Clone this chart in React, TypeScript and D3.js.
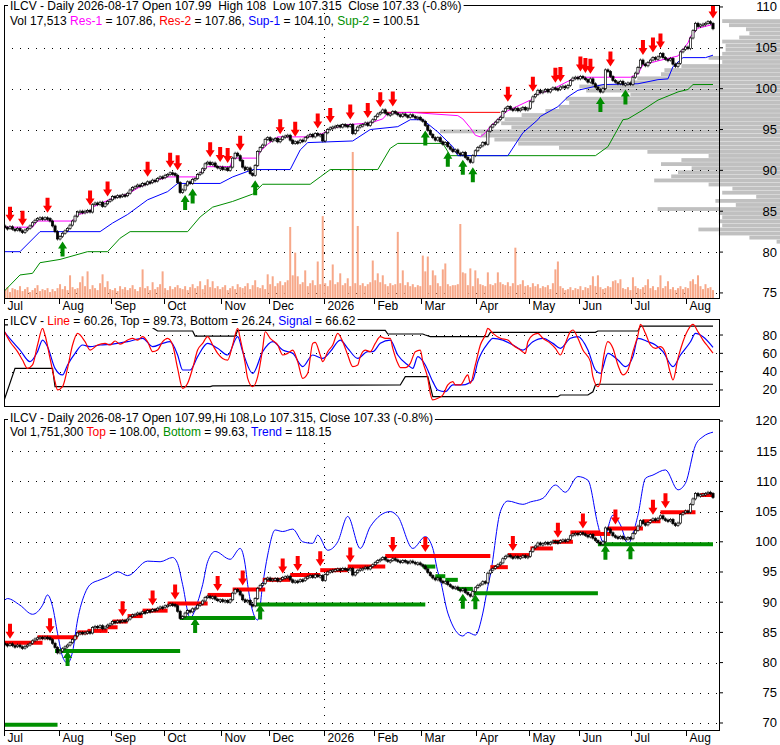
import React from 'react';
import * as d3 from 'd3';

// ---- calendar -------------------------------------------------------------
const holidays = ['2025-07-04', '2025-09-01', '2025-11-27', '2025-12-25', '2026-01-01', '2026-01-19',
  '2026-02-16', '2026-04-03', '2026-05-25', '2026-06-19', '2026-07-03'];
const fmtDay = d3.utcFormat('%Y-%m-%d');
const days = d3.utcDay
  .range(new Date(Date.UTC(2025, 5, 30)), new Date(Date.UTC(2026, 7, 18)))
  .filter(d => d.getUTCDay() % 6 !== 0 && !holidays.includes(fmtDay(d)));

// ---- price data ----------------------------------------------------------
const firstOpen = 83.4;
const closes = [
  83.2, 83.0, 82.9, 83.1, 82.8, 82.7, 82.9, 82.6, 82.4, 82.7,
  82.9, 83.2, 83.6, 83.9, 84.1, 84.2, 84.0, 84.2, 84.1, 83.8,
  83.2, 82.5, 81.6, 81.9, 82.3, 82.6, 82.9, 83.3, 83.8, 84.4,
  84.9, 85.0, 84.8, 85.0, 85.1, 84.9, 85.8, 86.0, 85.8, 86.1,
  85.6, 85.9, 86.2, 86.4, 86.8, 86.7, 86.9, 86.8, 87.0, 86.9,
  87.2, 87.6, 87.9, 88.0, 88.2, 88.1, 88.4, 88.3, 88.6, 88.5,
  88.8, 88.7, 89.0, 89.2, 89.1, 89.4, 89.5, 89.7, 89.6, 89.4,
  88.5, 87.3, 87.6, 88.2, 88.6, 88.4, 88.9, 89.0, 89.5, 89.7,
  90.2, 90.8, 91.0, 90.7, 90.9, 90.5, 90.3, 90.4, 90.1, 90.3,
  90.0, 90.4, 91.5, 92.1, 91.8, 91.2, 90.4, 90.1, 90.3, 89.6,
  89.4, 90.6, 92.3, 92.8, 93.1, 93.8, 94.0, 93.6, 93.8, 93.9,
  93.5, 93.8, 94.1, 94.2, 94.3, 93.7, 93.3, 93.5, 93.4, 93.7,
  93.6, 94.0, 94.2, 94.4, 94.1, 94.5, 94.3, 94.4, 93.6, 94.6,
  95.0, 95.2, 95.3, 95.4, 95.5, 95.3, 95.6, 95.5, 95.4, 95.6,
  94.5, 94.9, 95.3, 95.5, 95.6, 95.8, 95.5, 95.9, 96.2, 96.6,
  96.9, 97.1, 97.4, 97.0, 96.8, 96.9, 97.2, 97.0, 96.8, 96.6,
  96.9, 96.7, 96.5, 96.8, 96.6, 96.4, 96.5, 96.2, 96.0, 95.5,
  94.9, 94.4, 94.0, 93.7, 94.0, 93.5, 93.2, 93.4, 92.9, 92.6,
  92.3, 92.5, 92.1, 91.9, 92.2, 91.6, 91.3, 91.0, 91.8, 92.4,
  92.8, 93.0, 93.4, 93.2, 94.8, 95.3, 95.6, 95.9, 96.2, 96.5,
  97.2, 97.6, 97.8, 97.5, 97.4, 97.6, 97.3, 97.5, 97.7, 97.4,
  97.6, 98.4, 99.0, 99.3, 99.8, 99.5, 99.7, 99.9, 99.6, 99.9,
  100.1, 100.0, 99.9, 100.2, 100.3, 100.1, 100.4, 101.0, 101.3, 101.4,
  101.2, 101.5, 101.3, 101.1, 100.8, 101.2, 100.6, 100.2, 99.9, 99.6,
  100.0, 102.3, 102.1, 101.5, 101.0, 100.8, 100.6, 100.9, 100.5, 100.6,
  100.7, 100.5, 101.4, 101.9, 102.6, 103.5, 103.0, 102.8, 103.2, 103.5,
  103.8, 103.6, 103.9, 104.3, 103.8, 103.6, 103.5, 103.7, 103.0, 102.7,
  103.1, 104.5, 104.8, 105.1, 104.9, 106.2, 107.1, 108.0, 107.6, 107.8,
  107.9, 108.0, 108.2, 107.99, 107.33,
];

// daily volume, tens of thousands of shares
const volume = [
  4, 8, 11, 6, 10, 9, 8, 12, 7, 9, 11, 6, 8, 10, 13, 7, 9, 8, 10, 6, 9, 7,
  10, 14, 9, 12, 8, 23, 11, 9, 10, 16, 22, 12, 27, 9, 13, 10, 8, 15, 24, 11, 17, 9,
  8, 10, 7, 12, 9, 11, 8, 10, 13, 9, 7, 11, 29, 10, 12, 8, 16, 9, 11, 14, 27,
  10, 8, 12, 9, 11, 13, 10, 9, 12, 8, 11, 14, 10, 12, 17, 9, 13, 19, 11, 17, 10, 12,
  9, 11, 13, 8, 10, 12, 9, 14, 11, 10, 12, 15, 9, 13, 18, 11, 10, 13, 9, 24,
  14, 22, 12, 15, 17, 13, 16, 18, 72, 23, 46, 22, 14, 16, 28, 12, 15, 18, 13, 37, 14,
  83, 15, 12, 18, 34, 14, 16, 25, 13, 15, 20, 12, 148, 15, 73, 13, 15, 12, 14, 16, 38, 18, 25, 16, 23, 14, 12,
  15, 13, 14, 67, 15, 28, 13, 16, 12, 14, 11, 13, 12,
  43, 27, 42, 13, 28, 23, 15, 12, 29, 35, 14, 12, 13, 13, 14, 75, 26, 25, 13, 30, 12, 28, 20, 14, 13, 12, 26, 14, 13, 15, 26, 16,
  14, 13, 16, 12, 15, 51, 13, 14, 18, 12, 13, 11, 15, 12, 14, 10, 12, 11, 13, 9, 15, 29, 37, 12, 10, 8, 9, 11, 8, 10, 9, 12, 8, 11, 10,
  13, 22, 12, 23, 11, 9, 10, 12, 11, 17, 18, 15, 19, 10, 9, 11, 8, 21, 12, 10, 9, 11, 13, 19, 10, 12, 8, 11, 23, 10,
  12, 17, 9, 11, 8, 10, 12, 9, 11, 10, 17, 19, 14, 23, 12, 9, 14, 10, 11, 8,
];

// support / resistance lines, [day, price]
const res1: [number, number][] = [[0, 83.05], [12, 83.05], [14, 83.8], [28, 83.8], [30, 84.55], [35, 85.0], [36, 85.5],
  [44, 86.6], [50, 87.1], [55, 88.0], [60, 88.6], [66, 89.2], [78, 89.2], [79, 89.7], [82, 90.45], [91, 90.45],
  [92, 91.5], [102, 91.5], [103, 92.3], [106, 93.2], [110, 94.1], [122, 94.1], [128, 94.5], [131, 95.1], [138, 95.6],
  [147, 95.8], [152, 96.3], [154, 97.0], [163, 97.1], [182, 96.7], [184, 96.3], [187, 95.2], [189, 94.3], [191, 94.1],
  [193, 94.6], [195, 95.4], [198, 96.2], [199, 96.6], [202, 97.3], [211, 98.6], [214, 99.4], [219, 99.8], [226, 100.9],
  [230, 101.4], [251, 101.4], [254, 101.8], [256, 102.9], [262, 103.4], [270, 104.0], [274, 105.6], [275, 106.4],
  [278, 107.4], [284, 107.86]];
const res2: [number, number][] = [[153, 97.1], [199, 97.1]];
const sup1: [number, number][] = [[0, 80.05], [7, 80.05], [15, 82.5], [39, 82.5], [44, 83.55], [50, 84.6], [58, 86.4],
  [66, 87.4], [70, 88.4], [87, 88.4], [92, 89.2], [100, 90.1], [115, 90.1], [119, 92.5], [122, 93.4], [140, 93.6],
  [147, 95.0], [158, 95.35], [163, 96.2], [168, 96.2], [174, 94.7], [180, 92.9], [182, 91.8], [202, 91.8], [208, 94.6],
  [214, 96.2], [215, 96.6], [222, 97.8], [226, 99.0], [230, 99.8], [240, 100.5], [254, 100.6], [262, 101.1],
  [266, 101.2], [268, 102.7], [272, 103.8], [281, 103.8], [284, 104.1]];
const sup2: [number, number][] = [[0, 75.0], [7, 77.2], [12, 77.4], [15, 78.7], [23, 79.1], [34, 80.05], [42, 80.05],
  [47, 81.7], [51, 82.5], [74, 82.5], [79, 84.3], [84, 85.5], [92, 86.2], [100, 87.1], [104, 88.3], [123, 88.3],
  [127, 89.2], [131, 90.1], [150, 90.1], [155, 92.7], [158, 93.3], [176, 93.3], [179, 91.8], [237, 91.8], [242, 92.9],
  [248, 96.2], [250, 96.3], [256, 97.4], [262, 98.6], [270, 99.6], [274, 99.9], [276, 100.5], [284, 100.51]];

const sellTop = [3, 8, 18, 35, 42, 58, 67, 70, 83, 87, 90, 95, 111, 117, 126, 131, 139, 146, 151, 156, 202, 212,
  221, 223, 231, 233, 235, 243, 256, 260, 263, 284];
const buyTop = [24, 73, 76, 101, 169, 178, 184, 188, 239, 249];

// volume at price (right-hand profile)
const profilePrice = [81.25, 81.75, 82.25, 82.75, 83.25, 83.75, 84.25, 84.75, 85.25, 85.75, 86.25, 86.75, 87.25,
  87.75, 88.25, 88.75, 89.25, 89.75, 90.25, 90.75, 91.25, 91.75, 92.25, 92.75, 93.25, 93.75, 94.25, 94.75, 95.25,
  95.75, 96.25, 96.75, 97.25, 97.75, 98.25, 98.75, 99.25, 99.75, 100.25, 100.75, 101.25, 101.75, 102.25, 102.75,
  103.25, 103.75, 104.25, 104.75, 105.25, 105.75, 106.25, 106.75, 107.25, 107.75, 108.25];
const profileVolume = [1, 9, 18, 24, 17, 18, 17, 18, 36, 13, 19, 7, 17, 14, 21, 37, 32, 30, 26, 35, 29, 21, 39, 65,
  77, 84, 88, 100, 79, 82, 81, 76, 69, 65, 62, 63, 44, 57, 59, 44, 42, 35, 34, 29, 17, 21, 17, 16, 16, 17, 12, 9, 10,
  15, 17];

// ---- oscillator panel --------------------------------------------------
const oscLine: [number, number][] = [[0, 88], [3, 72.7], [6, 61.8], [8, 52.7], [10, 43.6], [12, 47.3], [14, 69.1],
  [16, 87.3], [17, 80], [19, 54.5], [21, 29.1], [22, 20], [24, 23.6], [26, 43.6], [28, 69.1], [30, 81.8], [33, 72.7],
  [35, 63.6], [38, 69.1], [41, 70.9], [43, 69.1], [45, 73.5], [47, 70], [50, 74.5], [52, 76.4], [54, 74.5],
  [56, 78.2], [58, 72.7], [60, 61.8], [62, 63.6], [64, 72.7], [66, 76.4], [68, 69.1], [70, 43.6], [72, 21.8],
  [74, 27.3], [76, 43.6], [78, 63.6], [80, 70.9], [82, 78.2], [84, 69.1], [86, 60], [88, 54.5], [90, 52.7],
  [92, 69.1], [94, 87.3], [95, 76.4], [97, 49.1], [98, 32.7], [100, 23.6], [102, 34.5], [104, 65.5], [105, 83.6],
  [107, 76.4], [110, 69.1], [112, 58.2], [114, 60], [116, 63.6], [118, 50.9], [120, 32.7], [122, 38.2], [124, 70.9],
  [125, 72], [127, 58.2], [128, 50.9], [130, 61.8], [132, 69.1], [134, 81.8], [136, 72.7], [138, 58.2], [140, 45.5],
  [142, 47.3], [143, 56.4], [145, 63.6], [147, 61.8], [149, 70.9], [151, 78.2], [153, 76.4], [155, 76.4],
  [156, 65.5], [158, 49.1], [159, 44.4], [161, 44.4], [163, 49.1], [165, 61.8], [167, 63.6], [168, 50.9],
  [170, 32.7], [171, 16.4], [172, 9.1], [174, 10.9], [176, 14.5], [178, 25.5], [180, 29.1], [181, 25.5],
  [183, 25.5], [186, 36.4], [187, 27.3], [189, 47.3], [191, 69.1], [193, 80], [194, 87.3], [196, 81.8], [199, 76.4],
  [202, 74.5], [204, 69.1], [207, 63.6], [209, 60], [210, 72.7], [212, 80], [214, 81.8], [216, 76.4], [219, 70.9],
  [221, 65.5], [223, 58.2], [225, 70.9], [227, 83.6], [228, 85.5], [230, 76.4], [232, 63.6], [235, 50.9],
  [236, 34.5], [238, 23.6], [239, 29.1], [240, 50.9], [242, 72.7], [244, 65.5], [246, 47.3], [248, 36.4],
  [250, 41.8], [252, 61.8], [254, 80], [255, 91.6], [257, 81.8], [259, 69.1], [261, 65.5], [263, 67.3], [265, 60],
  [267, 38.2], [268, 30.9], [270, 54.5], [272, 72.7], [274, 85.5], [276, 91.6], [278, 83.6], [280, 74.5],
  [282, 67.3], [284, 60.26]];
const oscSignal: [number, number][] = [[0, 86], [4, 72.7], [7, 63.6], [11, 50.9], [14, 61.8], [16, 74.5], [18, 67.3],
  [21, 43.6], [24, 36.4], [26, 47.3], [29, 60], [32, 69.1], [35, 67.3], [39, 69.1], [44, 70], [50, 72.7], [56, 76.4],
  [60, 67.3], [64, 70.9], [67, 72.7], [70, 58.2], [72, 41.8], [75, 41.8], [78, 56.4], [82, 70.9], [86, 65.5],
  [90, 58.2], [94, 78.2], [96, 61.8], [100, 38.2], [104, 61.8], [108, 72.7], [112, 63.6], [116, 60], [120, 45.5],
  [124, 58.2], [128, 54.5], [131, 61.8], [135, 74.5], [138, 65.5], [142, 54.5], [146, 61.8], [148, 61.8],
  [151, 70.9], [155, 74.5], [158, 58.2], [162, 47.3], [164, 43.6], [166, 56.4], [169, 47.3], [172, 29.1], [174, 20],
  [177, 18.2], [180, 25.5], [184, 25.5], [188, 30.9], [190, 50.9], [194, 70.9], [196, 76.4], [200, 74.5],
  [204, 69.1], [208, 63.6], [212, 72.7], [216, 76.4], [220, 70.9], [223, 65.5], [227, 76.4], [230, 78.2],
  [234, 63.6], [237, 41.8], [239, 38.2], [242, 60], [246, 52.7], [249, 45.5], [252, 56.4], [254, 76.4], [258, 72.7],
  [261, 69.1], [264, 61.8], [268, 45.5], [271, 58.2], [275, 72.7], [277, 81.8], [280, 78.2], [284, 66.62]];
const oscTop: [number, number][] = [[0, 91], [59, 91], [60, 88], [62, 84.4], [76, 84.4], [77, 78.9], [93, 78.9],
  [94, 85.2], [153, 85.0], [154, 81.1], [168, 81.1], [169, 80], [171, 78.2], [194, 78.2], [195, 82.9], [237, 82.9],
  [238, 84.4], [254, 84.4], [255, 89.73], [284, 89.73]];
const oscBottom: [number, number][] = [[0, 3.6], [5, 43.6], [20, 43.6], [21, 23.6], [83, 23.6], [84, 24.5],
  [159, 25.5], [161, 34.5], [170, 34.5], [172, 12.7], [222, 12.7], [223, 14.5], [234, 14.5], [236, 18], [237, 25.5],
  [238, 26.24], [284, 26.24]];

// ---- lower price panel --------------------------------------------------
const trend: [number, number][] = [[0, 89.9], [2, 90.6], [7, 89.5], [12, 88.0], [16, 89.5], [18, 91.2], [20, 89.3],
  [22, 84.85], [24, 81.0], [26, 79.9], [28, 81.8], [30, 87.05], [33, 91.5], [35, 92.9], [39, 93.7], [42, 94.2],
  [46, 95.05], [50, 94.4], [58, 96.8], [63, 96.7], [68, 97.4], [70, 96.4], [72, 92.9], [75, 87.4], [78, 90],
  [80, 92.9], [82, 96.7], [85, 98.4], [91, 97.1], [95, 98.9], [97, 96.2], [98, 92.9], [102, 87.05], [104, 92.9],
  [106, 97.8], [109, 101.95], [112, 101.7], [116, 102.1], [120, 100.0], [124, 99.75], [126, 101.1], [130, 98.6],
  [134, 100.0], [138, 104.2], [143, 98.9], [147, 102.5], [155, 105.0], [158, 104.2], [164, 98.9], [169, 100.85],
  [172, 98.9], [174, 95.05], [175, 93.7], [178, 88.2], [184, 84.4], [186, 85.0], [189, 84.55], [192, 88.2],
  [194, 92.6], [195, 94.5], [199, 105.0], [202, 106.75], [208, 106.2], [211, 106.6], [216, 107.2], [221, 109.4],
  [225, 108.2], [230, 110.8], [234, 110.2], [238, 102.8], [240, 100.0], [244, 104.4], [247, 102.8], [250, 99.75],
  [254, 104.4], [257, 110.5], [260, 111.05], [265, 111.9], [270, 108.6], [273, 109.7], [277, 116.0], [280, 117.4],
  [284, 118.15]];
// [first day, last day, price]
const topSteps: [number, number, number][] = [[0, 1, 80.9], [1, 16, 83.3], [14, 30, 84.2], [30, 34, 85.0],
  [34, 42, 85.25], [42, 46, 85.85], [44, 50, 86.8], [50, 56, 87.7], [56, 66, 88.6], [66, 82, 89.8], [82, 92, 91.2],
  [92, 105, 92.1], [104, 115, 93.7], [115, 127, 94.5], [127, 138, 95.3], [138, 153, 95.9], [153, 195, 97.65],
  [195, 202, 95.8], [202, 211, 97.8], [211, 220, 98.9], [220, 228, 100.0], [227, 239, 101.55], [235, 243, 101.3],
  [242, 256, 102.2], [256, 263, 103.4], [263, 277, 104.9], [279, 284, 107.75]];
const bottomSteps: [number, number, number][] = [[0, 22, 69.7], [21, 71, 81.9], [71, 101, 87.4], [101, 169, 89.6],
  [168, 173, 95.9], [173, 177, 94.3], [177, 182, 93.7], [182, 188, 92.2], [188, 238, 91.5], [238, 284, 99.6]];
const sellBottom = [3, 19, 48, 60, 69, 86, 96, 112, 118, 127, 139, 156, 169, 204, 222, 232, 245, 260, 265];
const buyBottom = [26, 77, 103, 184, 189, 241, 251];

const topTicks = [75, 80, 85, 90, 95, 100, 105, 110];
const oscTicks = [20, 40, 60, 80];
const botTicks = [70, 75, 80, 85, 90, 95, 100, 105, 110, 115, 120];

// ---- layout --------------------------------------------------------------
const W = 780;
const H = 745;
const L = 4;
const R = 719;
const P1 = { top: 5, bottom: 298 };
const P2 = { top: 319, bottom: 406 };
const P3 = { top: 419, bottom: 730 };
const FONT = 'Arial, "Liberation Sans", sans-serif';

const x = d3.scaleLinear().domain([0, closes.length - 1]).range([2.5, 713]);
const yTop = d3.scaleLinear().domain([74.38, 110.24]).range([P1.bottom, P1.top]);
const yOsc = d3.scaleLinear().domain([2.5, 97.5]).range([P2.bottom, P2.top]);
const yBot = d3.scaleLinear().domain([68.84, 120.33]).range([P3.bottom, P3.top]);
const yVol = d3.scaleLinear().domain([0, 150]).range([P1.bottom, P1.bottom - 148]);
const wProfile = d3.scaleLinear().domain([0, 100]).range([0, 340]);

const candles = closes.map((c, i) => {
  const o = i === 0 ? firstOpen : closes[i - 1];
  return { i, o, c, hi: Math.max(o, c), lo: Math.min(o, c) };
});

const monthTicks = days
  .map((d, i) => ({ d, i }))
  .filter(({ d, i }) => i > 0 && i < closes.length && d.getUTCMonth() !== days[i - 1].getUTCMonth())
  .map(({ d, i }) => ({
    i,
    label: d.getUTCMonth() === 0 ? String(d.getUTCFullYear()) : d3.utcFormat('%b')(d),
  }));
const yearTick = monthTicks.find(t => /^\d+$/.test(t.label));

let measureCtx: CanvasRenderingContext2D | null = null;
function textWidth(s: string, size: number) {
  if (!measureCtx) measureCtx = document.createElement('canvas').getContext('2d');
  if (!measureCtx) return s.length * size * 0.55;
  measureCtx.font = `${size}px Arial, "Liberation Sans", sans-serif`;
  return measureCtx.measureText(s).width;
}

type Part = { t: string; c?: string };
const Header: React.FC<{ parts: Part[]; x0: number; base: number }> = ({ parts, x0, base }) => {
  const w = textWidth(parts.map(p => p.t).join(''), 12);
  return (
    <g>
      <rect x={x0 - 2} y={base - 11} width={w + 4} height={14} fill="#fff" />
      <text x={x0} y={base} fontFamily={FONT} fontSize={12} style={{ whiteSpace: 'pre' }}>
        {parts.map((p, k) => (
          <tspan key={k} fill={p.c || '#000'}>{p.t}</tspan>
        ))}
      </text>
    </g>
  );
};

const downArrow = (ax: number, tip: number) =>
  `M${ax},${tip} l-4.5,-7 l2.5,0 l0,-8 l4,0 l0,8 l2.5,0 Z`;
const upArrow = (ax: number, tip: number) =>
  `M${ax},${tip} l-4.5,7 l2.5,0 l0,8 l4,0 l0,-8 l2.5,0 Z`;

const Grid: React.FC<{ ticks: number[]; y: d3.ScaleLinear<number, number> }> = ({ ticks, y }) => (
  <g>
    {ticks.map(t => (
      <line key={t} x1={L} x2={R} y1={Math.round(y(t)) + 0.5} y2={Math.round(y(t)) + 0.5}
        stroke="#000" strokeDasharray="1,7" />
    ))}
  </g>
);

const RightAxis: React.FC<{ ticks: number[]; y: d3.ScaleLinear<number, number> }> = ({ ticks, y }) => (
  <g fontFamily={FONT} fontSize={13}>
    {ticks.map(t => (
      <g key={t}>
        <line x1={R} x2={R + 4} y1={y(t)} y2={y(t)} stroke="#000" />
        <text x={777} y={y(t) + 4.5} textAnchor="end">{t}</text>
      </g>
    ))}
  </g>
);

const MonthAxis: React.FC<{ y0: number }> = ({ y0 }) => (
  <g fontFamily={FONT} fontSize={12}>
    {monthTicks.map(t => {
      const tx = Math.round(x(t.i) - 1.5) + 0.5;
      return (
        <g key={t.i}>
          <line x1={tx} x2={tx} y1={y0} y2={y0 + 6} stroke="#000" />
          <text x={tx + 3} y={y0 + 12}>{t.label}</text>
        </g>
      );
    })}
  </g>
);

const Candles: React.FC<{ y: d3.ScaleLinear<number, number> }> = ({ y }) => (
  <g>
    {candles.map(d => {
      const cx = x(d.i);
      const yt = y(d.hi);
      const yb = Math.max(y(d.lo), yt + 1.5);
      return (
        <g key={d.i}>
          <line x1={cx} x2={cx} y1={yt - 1.5} y2={yb + 1.5} stroke="#000" strokeWidth={0.7} />
          <rect x={cx - 1.1} y={yt} width={2.2} height={yb - yt}
            fill={d.c >= d.o ? '#fff' : '#000'} stroke="#000" strokeWidth={0.7} />
        </g>
      );
    })}
  </g>
);

const lineGen = (y: d3.ScaleLinear<number, number>, curve: d3.CurveFactory = d3.curveLinear) =>
  d3.line<[number, number]>().x(d => x(d[0])).y(d => y(d[1])).curve(curve);

const RED = '#ff0000';
const GREEN = '#008c00';
const BLUE = '#0000ff';
const MAGENTA = '#ff00ff';

export default function App() {
  const topLine = lineGen(yTop);
  const botTrend = lineGen(yBot, d3.curveMonotoneX);
  const oscSmooth = lineGen(yOsc, d3.curveMonotoneX);
  const oscStep = lineGen(yOsc);

  const binH = yTop(0) - yTop(0.5);

  const segAt = (segs: [number, number, number][], i: number) =>
    segs.filter(s => s[0] <= i && i <= s[1]);

  return (
    <div style={{ position: 'absolute', left: 0, top: 0 }}>
      <svg width={W} height={H} style={{ display: 'block', background: '#fff' }}>
        <defs>
          <clipPath id="c1"><rect x={L} y={P1.top} width={R - L} height={P1.bottom - P1.top} /></clipPath>
          <clipPath id="c2"><rect x={L} y={P2.top} width={R - L} height={P2.bottom - P2.top} /></clipPath>
          <clipPath id="c3"><rect x={L} y={P3.top} width={R - L} height={P3.bottom - P3.top} /></clipPath>
        </defs>

        {/* ---------- top panel ---------- */}
        <g>
          {profilePrice.map((p, k) => {
            const w = wProfile(profileVolume[k]);
            return (
              <rect key={p} x={W - w} y={yTop(p + 0.25)} width={w} height={binH - 0.3} fill="#c0c0c0" />
            );
          })}
        </g>
        <Grid ticks={topTicks.slice(0, -1)} y={yTop} />
        {yearTick && (
          <line x1={Math.round(x(yearTick.i) - 1.5) + 0.5} x2={Math.round(x(yearTick.i) - 1.5) + 0.5}
            y1={P1.top} y2={P1.bottom} stroke="#000" strokeDasharray="1,7" />
        )}
        <g clipPath="url(#c1)">
          {volume.map((v, i) => (
            <rect key={i} x={x(i) - 1} y={yVol(v)} width={2} height={P1.bottom - yVol(v)} fill="#f7a889" />
          ))}
          <path d={topLine(res2) || ''} fill="none" stroke={RED} />
          <path d={topLine(sup2) || ''} fill="none" stroke={GREEN} />
          <path d={topLine(sup1) || ''} fill="none" stroke={BLUE} />
          <path d={topLine(res1) || ''} fill="none" stroke={MAGENTA} />
          <Candles y={yTop} />
          {sellTop.map(i => (
            <path key={'s' + i} d={downArrow(x(i), yTop(candles[i].hi) - 5)} fill={RED} />
          ))}
          {buyTop.map(i => (
            <path key={'b' + i} d={upArrow(x(i), yTop(candles[i].lo) + 5)} fill={GREEN} />
          ))}
        </g>
        <rect x={L + 0.5} y={P1.top + 0.5} width={R - L} height={P1.bottom - P1.top} fill="none" stroke="#000" />
        <RightAxis ticks={topTicks} y={yTop} />
        <MonthAxis y0={P1.bottom} />
        <Header x0={10} base={10} parts={[
          { t: 'ILCV - Daily 2026-08-17 Open 107.99  High 108  Low 107.315  Close 107.33 (-0.8%)' },
        ]} />
        <Header x0={10} base={25} parts={[
          { t: 'Vol 17,513 ' }, { t: 'Res-1', c: MAGENTA }, { t: ' = 107.86, ' }, { t: 'Res-2', c: RED },
          { t: ' = 107.86, ' }, { t: 'Sup-1', c: BLUE }, { t: ' = 104.10, ' }, { t: 'Sup-2', c: '#009000' },
          { t: ' = 100.51' },
        ]} />

        {/* ---------- oscillator panel ---------- */}
        <Grid ticks={oscTicks} y={yOsc} />
        <g clipPath="url(#c2)">
          <path d={oscStep(oscTop) || ''} fill="none" stroke="#000" strokeWidth={1.2} />
          <path d={oscStep(oscBottom) || ''} fill="none" stroke="#000" strokeWidth={1.2} />
          <path d={oscSmooth(oscSignal) || ''} fill="none" stroke={BLUE} strokeWidth={1.2} />
          <path d={oscSmooth(oscLine) || ''} fill="none" stroke={RED} strokeWidth={1.2} />
        </g>
        <rect x={L + 0.5} y={P2.top + 0.5} width={R - L} height={P2.bottom - P2.top} fill="none" stroke="#000" />
        <RightAxis ticks={oscTicks} y={yOsc} />
        <Header x0={10} base={325} parts={[
          { t: 'ILCV - ' }, { t: 'Line', c: RED }, { t: ' = 60.26, Top = 89.73, Bottom = 26.24, ' },
          { t: 'Signal', c: BLUE }, { t: ' = 66.62' },
        ]} />

        {/* ---------- lower price panel ---------- */}
        <Grid ticks={botTicks.slice(0, -1)} y={yBot} />
        {yearTick && (
          <line x1={Math.round(x(yearTick.i) - 1.5) + 0.5} x2={Math.round(x(yearTick.i) - 1.5) + 0.5}
            y1={P3.top} y2={P3.bottom} stroke="#000" strokeDasharray="1,7" />
        )}
        <g clipPath="url(#c3)">
          <path d={botTrend(trend) || ''} fill="none" stroke={BLUE} />
          {bottomSteps.map((s, k) => (
            <line key={'g' + k} x1={x(s[0])} x2={x(s[1])} y1={yBot(s[2])} y2={yBot(s[2])}
              stroke="#009000" strokeWidth={4} />
          ))}
          {topSteps.map((s, k) => (
            <line key={'r' + k} x1={x(s[0])} x2={x(s[1])} y1={yBot(s[2])} y2={yBot(s[2])}
              stroke={RED} strokeWidth={4} />
          ))}
          <Candles y={yBot} />
          {sellBottom.map(i => {
            const segs = segAt(topSteps, i).map(s => yBot(s[2]));
            const tip = Math.min(yBot(candles[i].hi), ...segs) - 4;
            return <path key={'s' + i} d={downArrow(x(i), tip)} fill={RED} />;
          })}
          {buyBottom.map(i => {
            const segs = segAt(bottomSteps, i).map(s => yBot(s[2]));
            const tip = Math.max(yBot(candles[i].lo) + 3, ...segs);
            return <path key={'b' + i} d={upArrow(x(i), tip)} fill={GREEN} />;
          })}
        </g>
        <rect x={L + 0.5} y={P3.top + 0.5} width={R - L} height={P3.bottom - P3.top} fill="none" stroke="#000" />
        <RightAxis ticks={botTicks} y={yBot} />
        <MonthAxis y0={P3.bottom} />
        <Header x0={10} base={422} parts={[
          { t: 'ILCV - Daily 2026-08-17 Open 107.99,Hi 108,Lo 107.315, Close 107.33 (-0.8%)' },
        ]} />
        <Header x0={10} base={436} parts={[
          { t: 'Vol 1,751,300 ' }, { t: 'Top', c: RED }, { t: ' = 108.00, ' }, { t: 'Bottom', c: '#009000' },
          { t: ' = 99.63, ' }, { t: 'Trend', c: BLUE }, { t: ' = 118.15' },
        ]} />
      </svg>
    </div>
  );
}
